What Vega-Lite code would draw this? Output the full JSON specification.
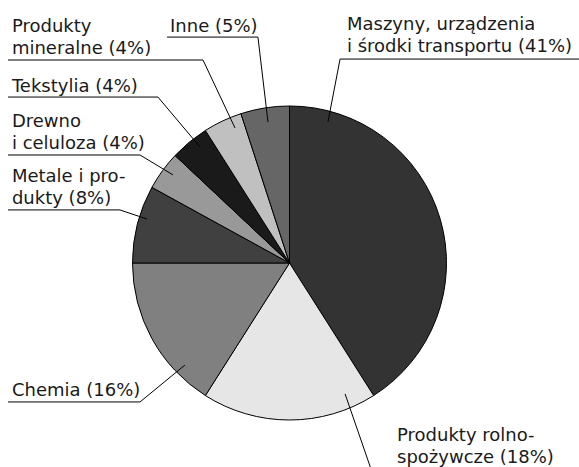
{
  "$schema": "https://vega.github.io/schema/vega-lite/v6.json",
  "width": 579,
  "height": 467,
  "padding": 0,
  "autosize": {"type": "none"},
  "background": "white",
  "config": {"view": {"stroke": null}},
  "datasets": {
    "slices": [
      {"idx": 1, "category": "Maszyny, urządzenia i środki transportu", "share": 41},
      {"idx": 2, "category": "Produkty rolno-spożywcze", "share": 18},
      {"idx": 3, "category": "Chemia", "share": 16},
      {"idx": 4, "category": "Metale i produkty", "share": 8},
      {"idx": 5, "category": "Drewno i celuloza", "share": 4},
      {"idx": 6, "category": "Tekstylia", "share": 4},
      {"idx": 7, "category": "Produkty mineralne", "share": 4},
      {"idx": 8, "category": "Inne", "share": 5}
    ],
    "labels": [
      {"label": "Maszyny, urządzenia\ni środki transportu (41%)", "x": 0.366, "y": 1.484},
      {"label": "Produkty rolno-\nspożywcze (18%)", "x": 0.685, "y": -1.134},
      {"label": "Chemia (16%)", "x": -1.768, "y": -0.847},
      {"label": "Metale i pro-\ndukty (8%)", "x": -1.768, "y": 0.516},
      {"label": "Drewno\ni celuloza (4%)", "x": -1.768, "y": 0.866},
      {"label": "Tekstylia (4%)", "x": -1.768, "y": 1.089},
      {"label": "Produkty\nmineralne (4%)", "x": -1.768, "y": 1.471},
      {"label": "Inne (5%)", "x": -0.761, "y": 1.471}
    ],
    "leaders": [
      {"category": "Maszyny", "step": 1, "x": 0.245, "y": 0.898},
      {"category": "Maszyny", "step": 2, "x": 0.322, "y": 1.299},
      {"category": "Maszyny", "step": 3, "x": 1.863, "y": 1.299},
      {"category": "Rolno", "step": 1, "x": 0.354, "y": -0.834},
      {"category": "Rolno", "step": 2, "x": 0.532, "y": -1.35},
      {"category": "Chemia", "step": 1, "x": -0.666, "y": -0.65},
      {"category": "Chemia", "step": 2, "x": -0.952, "y": -0.885},
      {"category": "Chemia", "step": 3, "x": -1.793, "y": -0.885},
      {"category": "Metale", "step": 1, "x": -0.908, "y": 0.28},
      {"category": "Metale", "step": 2, "x": -1.08, "y": 0.338},
      {"category": "Metale", "step": 3, "x": -1.793, "y": 0.338},
      {"category": "Drewno", "step": 1, "x": -0.742, "y": 0.561},
      {"category": "Drewno", "step": 2, "x": -0.952, "y": 0.688},
      {"category": "Drewno", "step": 3, "x": -1.793, "y": 0.688},
      {"category": "Tekstylia", "step": 1, "x": -0.57, "y": 0.739},
      {"category": "Tekstylia", "step": 2, "x": -0.838, "y": 1.057},
      {"category": "Tekstylia", "step": 3, "x": -1.793, "y": 1.057},
      {"category": "Mineralne", "step": 1, "x": -0.347, "y": 0.86},
      {"category": "Mineralne", "step": 2, "x": -0.551, "y": 1.293},
      {"category": "Mineralne", "step": 3, "x": -1.793, "y": 1.293},
      {"category": "Inne", "step": 1, "x": -0.137, "y": 0.898},
      {"category": "Inne", "step": 2, "x": -0.201, "y": 1.439},
      {"category": "Inne", "step": 3, "x": -0.78, "y": 1.439}
    ]
  },
  "layer": [
    {
      "data": {"name": "slices"},
      "mark": {"type": "arc", "outerRadius": 157, "stroke": "black", "strokeWidth": 1},
      "encoding": {
        "x": {"datum": 0, "type": "quantitative", "scale": {"domain": [-1.8439, 1.8439], "nice": false, "zero": false}, "axis": null},
        "y": {"datum": 0, "type": "quantitative", "scale": {"domain": [-1.2994, 1.6752], "nice": false, "zero": false}, "axis": null},
        "theta": {"field": "share", "type": "quantitative", "stack": true},
        "order": {"field": "idx", "type": "quantitative"},
        "color": {
          "field": "category", "type": "nominal", "legend": null,
          "scale": {
            "domain": ["Maszyny, urządzenia i środki transportu", "Produkty rolno-spożywcze", "Chemia", "Metale i produkty", "Drewno i celuloza", "Tekstylia", "Produkty mineralne", "Inne"],
            "range": ["#333333", "#e6e6e6", "#808080", "#404040", "#999999", "#1a1a1a", "#c0c0c0", "#666666"]
          }
        }
      }
    },
    {
      "data": {"name": "leaders"},
      "mark": {"type": "line", "stroke": "black", "strokeWidth": 1, "clip": true},
      "encoding": {
        "x": {"field": "x", "type": "quantitative", "axis": null},
        "y": {"field": "y", "type": "quantitative", "axis": null},
        "detail": {"field": "category"},
        "order": {"field": "step", "type": "quantitative"}
      }
    },
    {
      "data": {"name": "labels"},
      "mark": {"type": "text", "font": "DejaVu Sans", "fontSize": 18, "align": "left", "baseline": "alphabetic", "lineBreak": "\n", "lineHeight": 22, "color": "#1a1a1a"},
      "encoding": {
        "x": {"field": "x", "type": "quantitative", "axis": null},
        "y": {"field": "y", "type": "quantitative", "axis": null},
        "text": {"field": "label"}
      }
    }
  ],
  "resolve": {"scale": {"x": "shared", "y": "shared"}}
}
